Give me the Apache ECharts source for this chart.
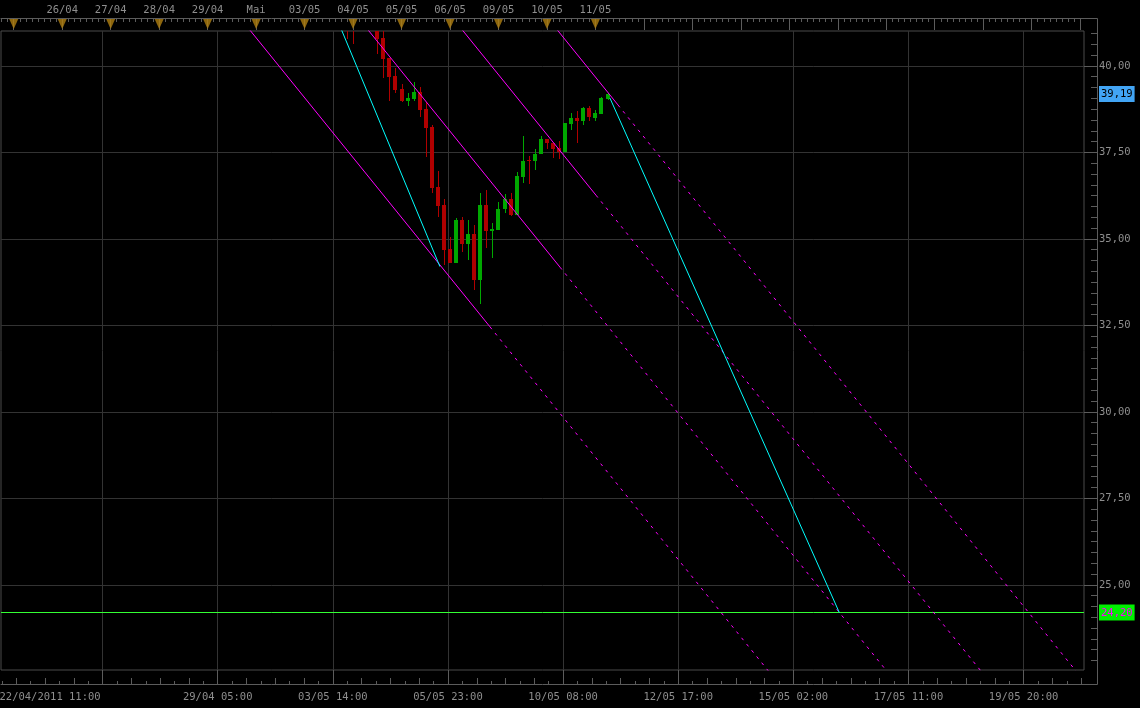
<!DOCTYPE html>
<html><head><meta charset="utf-8">
<script src="https://cdn.jsdelivr.net/npm/echarts@6/dist/echarts.min.js"></script>
<style>html,body{margin:0;padding:0;background:#000;}#c{width:1140px;height:708px;}</style>
</head><body><div id="c"></div>
<script>
// ===== DATA =====
// x values = trading hours counted from 22/04/2011 11:00 (weekends skipped, 24h days)
const firstBarHour = 172;   // first 3-hour bar in the list
const barStepHours = 3;
const opens  = [41.50,41.35,41.30,41.20,41.30,41.45,41.35,41.25,40.82,40.24,39.71,39.34,38.99,39.05,39.26,38.76,38.24,36.51,35.98,34.71,34.31,35.55,34.84,35.15,33.82,35.98,35.24,35.27,35.85,36.16,35.70,36.80,37.28,37.24,37.44,37.89,37.78,37.63,37.52,38.33,38.50,38.42,38.79,38.50,38.62,39.05];
const closes = [41.35,41.25,41.10,41.05,41.45,41.35,41.25,40.78,40.20,39.69,39.31,38.99,39.08,39.25,38.73,38.22,36.48,35.96,34.69,34.31,35.55,34.84,35.15,33.82,35.98,35.24,35.28,35.87,36.16,35.70,36.82,37.26,37.26,37.46,37.89,37.76,37.61,37.52,38.36,38.50,38.42,38.79,38.52,38.64,39.08,39.19];
const lows   = [41.20,41.10,40.78,40.64,41.15,41.20,41.10,40.35,39.64,38.99,39.23,38.95,38.84,38.99,38.53,37.38,36.34,35.62,34.25,34.30,34.30,34.61,34.38,33.51,33.11,34.74,34.46,35.27,35.75,35.67,35.70,36.61,36.59,36.98,37.44,37.60,37.35,37.32,37.52,38.16,37.76,38.28,38.40,38.42,38.62,39.02];
const highs  = [41.60,41.50,41.45,41.35,41.60,41.65,41.50,41.30,41.10,40.24,39.95,39.48,39.22,39.55,39.39,38.95,38.28,36.97,36.16,35.06,35.60,35.64,35.55,35.41,36.33,36.42,35.47,36.07,36.30,36.33,36.94,37.98,37.40,37.60,37.98,37.89,37.78,37.83,38.36,38.64,38.70,38.82,38.84,38.73,39.10,39.22];

// trend lines: [hour, price] points
const channel1Solid = [[129.05,41.10],[248.80,32.458]];
const channel1Dash  = [[248.80,32.458],[386.77,22.50]];
const channel2Solid = [[187.62,41.10],[283.46,34.183]];
const channel2Dash  = [[283.46,34.183],[445.34,22.50]];
const channel3Solid = [[234.27,41.10],[301.28,36.264]];
const channel3Dash  = [[301.28,36.264],[492.00,22.50]];
const channel4Solid = [[281.31,41.10],[312.17,38.873]];
const channel4Dash  = [[312.17,38.873],[539.04,22.50]];
const fanLine1 = [[174.18,41.20],[224.00,34.20]];
const fanLine2 = [[308.20,39.07],[421.75,24.20]];

const lastPrice = 39.19;
const targetPrice = 24.20;
const priceTicks = [25, 27.5, 30, 32.5, 35, 37.5, 40];

// top axis: trading days (index 0 = 25/04, starts 13h after origin)
const dayLabels = ["", "26/04","27/04","28/04","29/04","Mai","03/05","04/05","05/05","06/05","09/05","10/05","11/05"];
const firstDayStartHour = 13;
const hoursPerDay = 24;
const totalDayTicks = 23;

// bottom axis
const gridStepHours = 57;
const bottomLabelHours = [31, 114, 171, 228, 285, 342, 399, 456, 513];
const bottomLabels = ["22/04/2011 11:00","29/04 05:00","03/05 14:00","05/05 23:00","10/05 08:00","12/05 17:00","15/05 02:00","17/05 11:00","19/05 20:00"];

// ===== VIEW =====
const X_MIN = 6.7, X_MAX = 542.9;
const Y_MIN = 22.538, Y_MAX = 41.01;
const FONT = 'DejaVu Sans Mono';
const TXT = '#8e8e8e', AXIS = '#5c5c5c', GRIDC = '#333333';
const RED = '#b00000', GREEN = '#00a800', MAG = '#ff00ff', CYAN = '#00ffff', LIME = '#33ff33';

const barHours = opens.map((_, i) => firstBarHour + i * barStepHours);
const candleData = barHours.map((h, i) => [h, opens[i], closes[i], lows[i], highs[i]]);

const majorX = []; for (let v = gridStepHours; v <= X_MAX; v += gridStepHours) majorX.push(v);
const quarterX = [], eighthX = [];
for (let j = 1; j * gridStepHours / 8 <= X_MAX; j++) {
  if (j % 8 === 0) continue;
  (j % 2 === 0 ? quarterX : eighthX).push(j * gridStepHours / 8);
}
const dayTicks = []; for (let d = 0; d < totalDayTicks; d++) dayTicks.push(firstDayStartHour + d * hoursPerDay);
const dayLabelVals = []; for (let d = 1; d < dayLabels.length; d++) dayLabelVals.push(firstDayStartHour + d * hoursPerDay);
const hour3Ticks = [];
for (let v = 1; v <= X_MAX; v += 3) { if (v >= X_MIN && (v - firstDayStartHour) % hoursPerDay !== 0) hour3Ticks.push(v); }
const triangleData = []; for (let d = 0; d < dayLabels.length; d++) triangleData.push([firstDayStartHour + d * hoursPerDay, 0.5]);
const minorY = [];
for (let k = 72; k * 0.3125 <= Y_MAX; k++) { if (k % 8 !== 0) minorY.push(k * 0.3125); }

const fmtPrice = v => v.toFixed(2).replace('.', ',');

function helperX(pos, offset, len, vals) {
  return {
    type: 'value', gridIndex: 0, position: pos, offset: offset, min: X_MIN, max: X_MAX,
    axisLine: { show: false },
    axisTick: { show: true, inside: true, length: len, customValues: vals, lineStyle: { color: AXIS } },
    axisLabel: { show: false }, splitLine: { show: false }
  };
}
function lineSeries(data, color, dashed) {
  return { type: 'line', xAxisIndex: 0, yAxisIndex: 0, data: data, symbol: 'none', silent: true,
    lineStyle: { color: color, width: 1, type: dashed ? [3, 5] : 'solid' }, animation: false, clip: true };
}
function renderCandle(params, api) {
  const x = api.value(0), o = api.value(1), c = api.value(2), l = api.value(3), h = api.value(4);
  const pO = api.coord([x, o]), pC = api.coord([x, c]), pL = api.coord([x, l]), pH = api.coord([x, h]);
  const cx = Math.round(pO[0]);
  const color = c >= o ? GREEN : RED;
  const top = Math.round(Math.min(pO[1], pC[1])), bot = Math.round(Math.max(pO[1], pC[1]));
  const wt = Math.round(pH[1]), wb = Math.round(pL[1]);
  return { type: 'group', children: [
    { type: 'rect', shape: { x: cx, y: wt, width: 1, height: Math.max(1, wb - wt) }, style: { fill: color } },
    { type: 'rect', shape: { x: cx - 2, y: top, width: 4, height: Math.max(1, bot - top) }, style: { fill: color } }
  ] };
}

const chart = echarts.init(document.getElementById('c'), null, { renderer: 'canvas' });
chart.setOption({
  backgroundColor: '#000',
  animation: false,
  grid: [
    { left: 1, top: 31, width: 1083, height: 639, show: true, borderColor: '#4a4a4a', borderWidth: 1, containLabel: false, outerBoundsMode: 'none' },
    { left: 1, top: 18, width: 1083, height: 12, containLabel: false, outerBoundsMode: 'none' }
  ],
  xAxis: [
    { type: 'value', gridIndex: 0, position: 'bottom', offset: 14, min: X_MIN, max: X_MAX,
      axisLine: { show: true, lineStyle: { color: AXIS } },
      axisTick: { show: true, inside: true, length: 14, customValues: majorX, lineStyle: { color: AXIS } },
      axisLabel: { show: true, customValues: bottomLabelHours, margin: 8, color: TXT, fontFamily: FONT, fontSize: 10.5,
        formatter: v => { const i = bottomLabelHours.findIndex(h => Math.abs(h - v) < 1e-6); return i >= 0 ? bottomLabels[i] : ''; } },
      splitLine: { show: true, lineStyle: { color: GRIDC, width: 1 } } },
    helperX('bottom', 14, 6, quarterX),
    helperX('bottom', 14, 3, eighthX),
    { type: 'value', gridIndex: 0, position: 'top', offset: 13, min: X_MIN, max: X_MAX,
      axisLine: { show: true, lineStyle: { color: AXIS } },
      axisTick: { show: true, inside: true, length: 12, customValues: dayTicks, lineStyle: { color: AXIS } },
      axisLabel: { show: true, customValues: dayLabelVals, margin: 2, color: TXT, fontFamily: FONT, fontSize: 10.5,
        formatter: v => dayLabels[Math.round((v - firstDayStartHour) / hoursPerDay)] || '' },
      splitLine: { show: false } },
    helperX('top', 13, 4, hour3Ticks),
    { type: 'value', gridIndex: 1, min: X_MIN, max: X_MAX, show: false }
  ],
  yAxis: [
    { type: 'value', gridIndex: 0, position: 'right', offset: 13, min: Y_MIN, max: Y_MAX,
      axisLine: { show: true, lineStyle: { color: AXIS } },
      axisTick: { show: true, inside: true, length: 13, customValues: priceTicks, lineStyle: { color: AXIS } },
      axisLabel: { show: true, customValues: priceTicks.concat([lastPrice, targetPrice]), margin: 2,
        color: TXT, fontFamily: FONT, fontSize: 10.5,
        formatter: v => {
          if (Math.abs(v - lastPrice) < 1e-6) return '{b|' + fmtPrice(v) + '}';
          if (Math.abs(v - targetPrice) < 1e-6) return '{g|' + fmtPrice(v) + '}';
          return fmtPrice(v);
        },
        rich: {
          b: { backgroundColor: '#42a5f5', color: '#000', fontFamily: FONT, fontSize: 10.5, padding: [3, 2, 2, 2] },
          g: { backgroundColor: '#00f000', color: '#ff00ff', fontFamily: FONT, fontSize: 10.5, padding: [3, 2, 2, 2] }
        } },
      splitLine: { show: true, lineStyle: { color: GRIDC, width: 1 } } },
    { type: 'value', gridIndex: 0, position: 'right', offset: 13, min: Y_MIN, max: Y_MAX,
      axisLine: { show: false },
      axisTick: { show: true, inside: true, length: 6, customValues: minorY, lineStyle: { color: AXIS } },
      axisLabel: { show: false }, splitLine: { show: false } },
    { type: 'value', gridIndex: 1, min: 0, max: 1, show: false }
  ],
  graphic: [
    { type: 'line', shape: { x1: 1084, y1: 684.5, x2: 1097.5, y2: 684.5 }, style: { stroke: AXIS, lineWidth: 1 }, silent: true },
    { type: 'line', shape: { x1: 1097.5, y1: 670, x2: 1097.5, y2: 684.5 }, style: { stroke: AXIS, lineWidth: 1 }, silent: true },
    { type: 'line', shape: { x1: 1084, y1: 18.5, x2: 1097.5, y2: 18.5 }, style: { stroke: AXIS, lineWidth: 1 }, silent: true },
    { type: 'line', shape: { x1: 1097.5, y1: 18.5, x2: 1097.5, y2: 31 }, style: { stroke: AXIS, lineWidth: 1 }, silent: true }
  ],
  series: [
    lineSeries([[X_MIN, targetPrice], [X_MAX, targetPrice]], LIME, false),
    lineSeries(channel1Solid, MAG, false), lineSeries(channel1Dash, MAG, true),
    lineSeries(channel2Solid, MAG, false), lineSeries(channel2Dash, MAG, true),
    lineSeries(channel3Solid, MAG, false), lineSeries(channel3Dash, MAG, true),
    lineSeries(channel4Solid, MAG, false), lineSeries(channel4Dash, MAG, true),
    lineSeries(fanLine1, CYAN, false), lineSeries(fanLine2, CYAN, false),
    { type: 'custom', xAxisIndex: 0, yAxisIndex: 0, data: candleData, renderItem: renderCandle, clip: true, silent: true,
      encode: { x: 0, y: [1, 2, 3, 4] } },
    { type: 'scatter', xAxisIndex: 5, yAxisIndex: 2, data: triangleData, symbol: 'triangle', symbolRotate: 180,
      symbolSize: [9, 10], itemStyle: { color: '#b08010' }, silent: true }
  ]
});
</script></body></html>
